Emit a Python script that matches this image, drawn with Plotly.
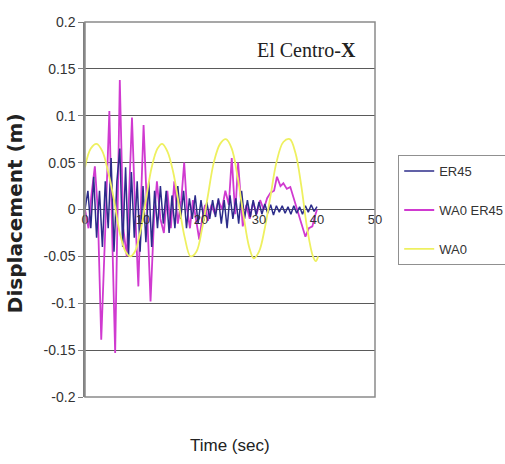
import plotly.graph_objects as go

# ---------------- data ----------------
er45_t = [0, 0.5, 1.0, 1.5, 2.0, 2.5, 3.0, 3.5, 4.0, 4.5, 5.0, 5.5, 6.0, 6.5, 7.0, 7.5, 8.0, 8.5, 9.0, 9.5,
          10.0, 10.5, 11.0, 11.5, 12.0, 12.5, 13.0, 13.5, 14.0, 14.5, 15.0, 15.5, 16.0, 16.5, 17.0, 17.5,
          18.0, 18.5, 19.0, 19.5, 20.0, 20.5, 21.0, 21.5, 22.0, 22.5, 23.0, 23.5, 24.0, 24.5, 25.0, 25.5,
          26.0, 26.5, 27.0, 27.5, 28.0, 28.5, 29.0, 29.5, 30.0, 30.5, 31.0, 31.5, 32.0, 32.5, 33.0, 33.5,
          34.0, 34.5, 35.0, 35.5, 36.0, 36.5, 37.0, 37.5, 38.0, 38.5, 39.0, 39.5, 40.0]
er45_v = [0.0, 0.02, -0.02, 0.035, -0.03, 0.02, -0.04, 0.03, -0.02, 0.055, -0.045, 0.03, 0.065, -0.04,
          0.045, -0.05, 0.04, -0.03, 0.03, -0.045, 0.025, -0.035, 0.03, -0.04, 0.02, -0.02, 0.025, -0.015,
          0.02, -0.025, 0.015, -0.02, 0.025, -0.01, 0.02, -0.02, 0.012, -0.01, 0.015, -0.015, 0.01, -0.012,
          0.008, -0.01, 0.01, -0.008, 0.012, -0.015, 0.01, -0.02, 0.015, -0.01, 0.012, -0.015, 0.02, -0.01,
          0.01, -0.008, 0.01, -0.006, 0.008, -0.005, 0.006, -0.004, 0.005, -0.006, 0.004, -0.003, 0.004,
          -0.004, 0.003, -0.005, 0.004, -0.004, 0.003, -0.005, 0.004, -0.003, 0.005, -0.002, 0.003]

wa0er45_t = [0, 0.6, 1.1, 1.7, 2.2, 2.8, 3.5, 4.2, 4.7, 5.2, 6.0, 6.6, 7.2, 8.1, 8.7, 9.2, 9.6, 10.1,
             10.7, 11.3, 11.9, 12.4, 13.0, 13.6, 14.2, 14.8, 15.4, 16.0, 16.6, 17.1, 17.6, 18.1, 18.6,
             19.1, 19.7, 20.2, 20.7, 21.2, 21.8, 22.4, 23.0, 23.6, 24.2, 24.8, 25.3, 25.9, 26.4, 27.2,
             27.8, 28.4, 29.0, 29.6, 30.2, 30.8, 31.4, 32.0, 32.6, 33.1, 33.7, 34.2, 34.8, 35.4, 36.0,
             36.6, 37.2, 37.6, 38.0, 38.6, 39.2, 39.6, 40.0]
wa0er45_v = [0.0, -0.02, 0.015, 0.046, 0.0, -0.139, -0.02, 0.105, -0.03, -0.153, 0.138, -0.02, -0.05,
             0.098, -0.01, -0.082, 0.0, 0.09, 0.0, -0.098, -0.01, 0.03, -0.01, -0.025, 0.02, -0.02, 0.03,
             -0.015, 0.01, 0.05, 0.0, -0.02, 0.01, -0.01, -0.032, -0.01, 0.005, -0.012, 0.005, -0.005,
             0.01, 0.0, 0.02, 0.005, 0.055, -0.005, 0.05, -0.018, 0.005, -0.01, 0.008, -0.005, 0.01, 0.0,
             0.012, 0.018, 0.02, 0.035, 0.025, 0.028, 0.022, 0.024, 0.012, 0.0, -0.012, -0.022, -0.029,
             -0.02, -0.018, -0.008, 0.0]

wa0_t = [0, 1, 2, 3, 4, 5, 6, 7, 7.8, 8.6, 9.5, 10.5, 11.5, 12.5, 13.3, 14.2, 15.2, 16.2, 17.2, 18.2,
         19.2, 20.2, 21.2, 22.2, 23.3, 24.3, 25.3, 26.3, 27.3, 28.3, 29.1, 30, 31, 32, 33, 34.2, 35.3,
         36.3, 37.3, 38.3, 39.3, 39.8, 40.2]
wa0_v = [0.045, 0.065, 0.07, 0.062, 0.04, 0.01, -0.025, -0.045, -0.05, -0.045, -0.025, 0.01, 0.045,
         0.065, 0.07, 0.062, 0.04, 0.005, -0.03, -0.05, -0.045, -0.02, 0.015, 0.05, 0.07, 0.075, 0.065,
         0.035, -0.005, -0.04, -0.052, -0.045, -0.02, 0.015, 0.05, 0.072, 0.075, 0.06, 0.025, -0.02,
         -0.05, -0.055, -0.05]

x_ticks = [0, 10, 20, 30, 40, 50]
y_ticks = [0.2, 0.15, 0.1, 0.05, 0, -0.05, -0.1, -0.15, -0.2]
y_ticktext = ["0.2", "0.15", "0.1", "0.05", "0", "-0.05", "-0.1", "-0.15", "-0.2"]

SANS = "Liberation Sans, Arial, sans-serif"

fig = go.Figure()
fig.add_trace(go.Scatter(x=wa0er45_t, y=wa0er45_v, mode="lines", name="WA0 ER45",
                         line=dict(color="#d03ad0", width=1.8), legendrank=2, legendgroup="b"))
fig.add_trace(go.Scatter(x=er45_t, y=er45_v, mode="lines", name="ER45",
                         line=dict(color="#2c2c8a", width=1.5), legendrank=1, legendgroup="a"))
fig.add_trace(go.Scatter(x=wa0_t, y=wa0_v, mode="lines", name="WA0", line_shape="spline",
                         line=dict(color="#eef060", width=1.8), legendrank=3, legendgroup="c"))

fig.update_layout(
    width=505, height=464,
    margin=dict(l=85, r=130, t=22, b=67, autoexpand=False),
    paper_bgcolor="white", plot_bgcolor="white",
    font=dict(family=SANS, color="#333333", size=13),
    xaxis=dict(range=[0, 50], tickvals=x_ticks, anchor="free", position=0.5,
               showgrid=False, zeroline=False, showline=False,
               ticks="", tickfont=dict(family=SANS, size=13, color="#333333")),
    yaxis=dict(range=[-0.2, 0.2], tickvals=y_ticks, ticktext=y_ticktext,
               showgrid=True, gridcolor="#5a5a5a", gridwidth=1.3, zeroline=False,
               showline=True, linecolor="#808080", linewidth=1.5,
               ticks="outside", ticklen=5, tickcolor="#808080",
               tickfont=dict(family=SANS, size=14, color="#333333")),
    legend=dict(x=1.08, y=0.645, xanchor="left", yanchor="top",
                bordercolor="#909090", borderwidth=1, bgcolor="white",
                font=dict(family=SANS, size=13, color="#333333"),
                tracegroupgap=19, traceorder="grouped"),
    showlegend=True,
)

fig.add_shape(type="rect", xref="paper", yref="paper", x0=0, y0=0, x1=1, y1=1,
              line=dict(color="#8a8a8a", width=1.5), layer="above")

fig.add_annotation(x=0.94, y=0.925, xref="paper", yref="paper", xanchor="right", yanchor="middle",
                   text="El Centro-<b>X</b>", showarrow=False,
                   font=dict(family="Liberation Serif, Times New Roman, serif", size=20, color="#222222"))
fig.add_annotation(x=-0.29, y=0.49, xref="paper", yref="paper", textangle=-90,
                   text="<b>Displacement (m)</b>", showarrow=False,
                   font=dict(family="DejaVu Sans, Verdana, sans-serif", size=20, color="#222222"))
fig.add_annotation(x=0.5, y=-0.16, xref="paper", yref="paper",
                   text="Time (sec)", showarrow=False,
                   font=dict(family=SANS, size=17, color="#222222"))

fig.write_html("out.html")
